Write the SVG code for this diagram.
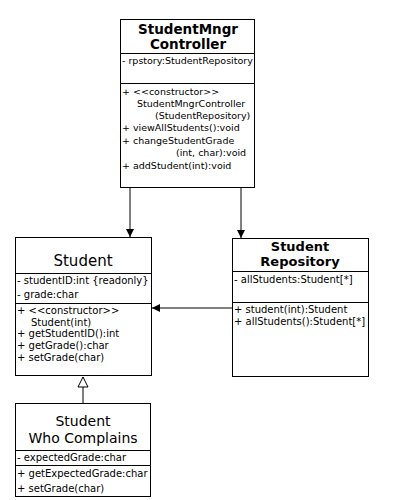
<svg xmlns="http://www.w3.org/2000/svg" width="400" height="500" viewBox="0 0 400 500">
<style>
.box{fill:#fff;stroke:#000;stroke-width:1}
.ln{stroke:#000;stroke-width:1;fill:none}
.tb{font-family:"DejaVu Sans",sans-serif;font-size:13px;font-weight:bold;text-anchor:middle}
.tn{font-family:"DejaVu Sans",sans-serif;font-size:14px;text-anchor:middle}
.m{font-family:"DejaVu Sans",sans-serif;font-size:9.5px}
.m2{font-family:"DejaVu Sans",sans-serif;font-size:10px}
</style>
<defs>
<marker id="fa" viewBox="0 0 10 10" refX="10" refY="5" markerWidth="8" markerHeight="8" markerUnits="userSpaceOnUse" orient="auto"><path d="M0,0L10,5L0,10z" fill="#000"/></marker>
<marker id="ha" viewBox="0 0 12 12" refX="11" refY="6" markerWidth="12" markerHeight="12" markerUnits="userSpaceOnUse" orient="auto"><path d="M1,1L11,6L1,11z" fill="#fff" stroke="#000"/></marker>
</defs>
<rect width="400" height="500" fill="#fff"/>
<g id="connectors">
<line class="ln" x1="130" y1="188" x2="130" y2="237" marker-end="url(#fa)"/>
<line class="ln" x1="241" y1="188" x2="241" y2="238" marker-end="url(#fa)"/>
<line class="ln" x1="232" y1="308" x2="152" y2="308" marker-end="url(#fa)"/>
<line class="ln" x1="83" y1="403" x2="83" y2="377" marker-end="url(#ha)"/>
</g>
<g id="controller">
<rect class="box" x="120.5" y="19.5" width="134" height="168"/>
<line class="ln" x1="120.5" y1="53.5" x2="254.5" y2="53.5"/>
<line class="ln" x1="120.5" y1="83.5" x2="254.5" y2="83.5"/>
<text class="tb" x="188" y="34" style="font-size:13.5px">StudentMngr</text>
<text class="tb" x="188" y="49" style="font-size:13.5px">Controller</text>
<text class="m" x="122" y="64">- rpstory:StudentRepository</text>
<text class="m" x="122" y="95">+ &lt;&lt;constructor&gt;&gt;</text>
<text class="m" x="137" y="107">StudentMngrController</text>
<text class="m" x="155" y="119">(StudentRepository)</text>
<text class="m" x="122" y="131">+ viewAllStudents():void</text>
<text class="m" x="122" y="144">+ changeStudentGrade</text>
<text class="m" x="176" y="156">(int, char):void</text>
<text class="m" x="122" y="169">+ addStudent(int):void</text>
</g>
<g id="student">
<rect class="box" x="15.5" y="237.5" width="136" height="138"/>
<line class="ln" x1="15.5" y1="273.5" x2="151.5" y2="273.5"/>
<line class="ln" x1="15.5" y1="303.5" x2="151.5" y2="303.5"/>
<text class="tn" x="83" y="266" style="font-size:15px">Student</text>
<text class="m2" x="17" y="284">- studentID:int {readonly}</text>
<text class="m2" x="17" y="298">- grade:char</text>
<text class="m2" x="17" y="314">+ &lt;&lt;constructor&gt;&gt;</text>
<text class="m2" x="31" y="326">Student(int)</text>
<text class="m2" x="17" y="337">+ getStudentID():int</text>
<text class="m2" x="17" y="349">+ getGrade():char</text>
<text class="m2" x="17" y="361">+ setGrade(char)</text>
</g>
<g id="repository">
<rect class="box" x="232.5" y="238.5" width="136" height="138"/>
<line class="ln" x1="232.5" y1="271.5" x2="368.5" y2="271.5"/>
<line class="ln" x1="232.5" y1="302.5" x2="368.5" y2="302.5"/>
<text class="tb" x="300" y="251">Student</text>
<text class="tb" x="300" y="266">Repository</text>
<text class="m2" x="234" y="283">- allStudents:Student[*]</text>
<text class="m2" x="234" y="313">+ student(int):Student</text>
<text class="m2" x="234" y="325">+ allStudents():Student[*]</text>
</g>
<g id="complains">
<rect class="box" x="15.5" y="403.5" width="135" height="93"/>
<line class="ln" x1="15.5" y1="450.5" x2="150.5" y2="450.5"/>
<line class="ln" x1="15.5" y1="465.5" x2="150.5" y2="465.5"/>
<text class="tn" x="83" y="426">Student</text>
<text class="tn" x="83" y="443">Who Complains</text>
<text class="m2" x="17" y="461">- expectedGrade:char</text>
<text class="m2" x="17" y="477">+ getExpectedGrade:char</text>
<text class="m2" x="17" y="492">+ setGrade(char)</text>
</g>
</svg>
